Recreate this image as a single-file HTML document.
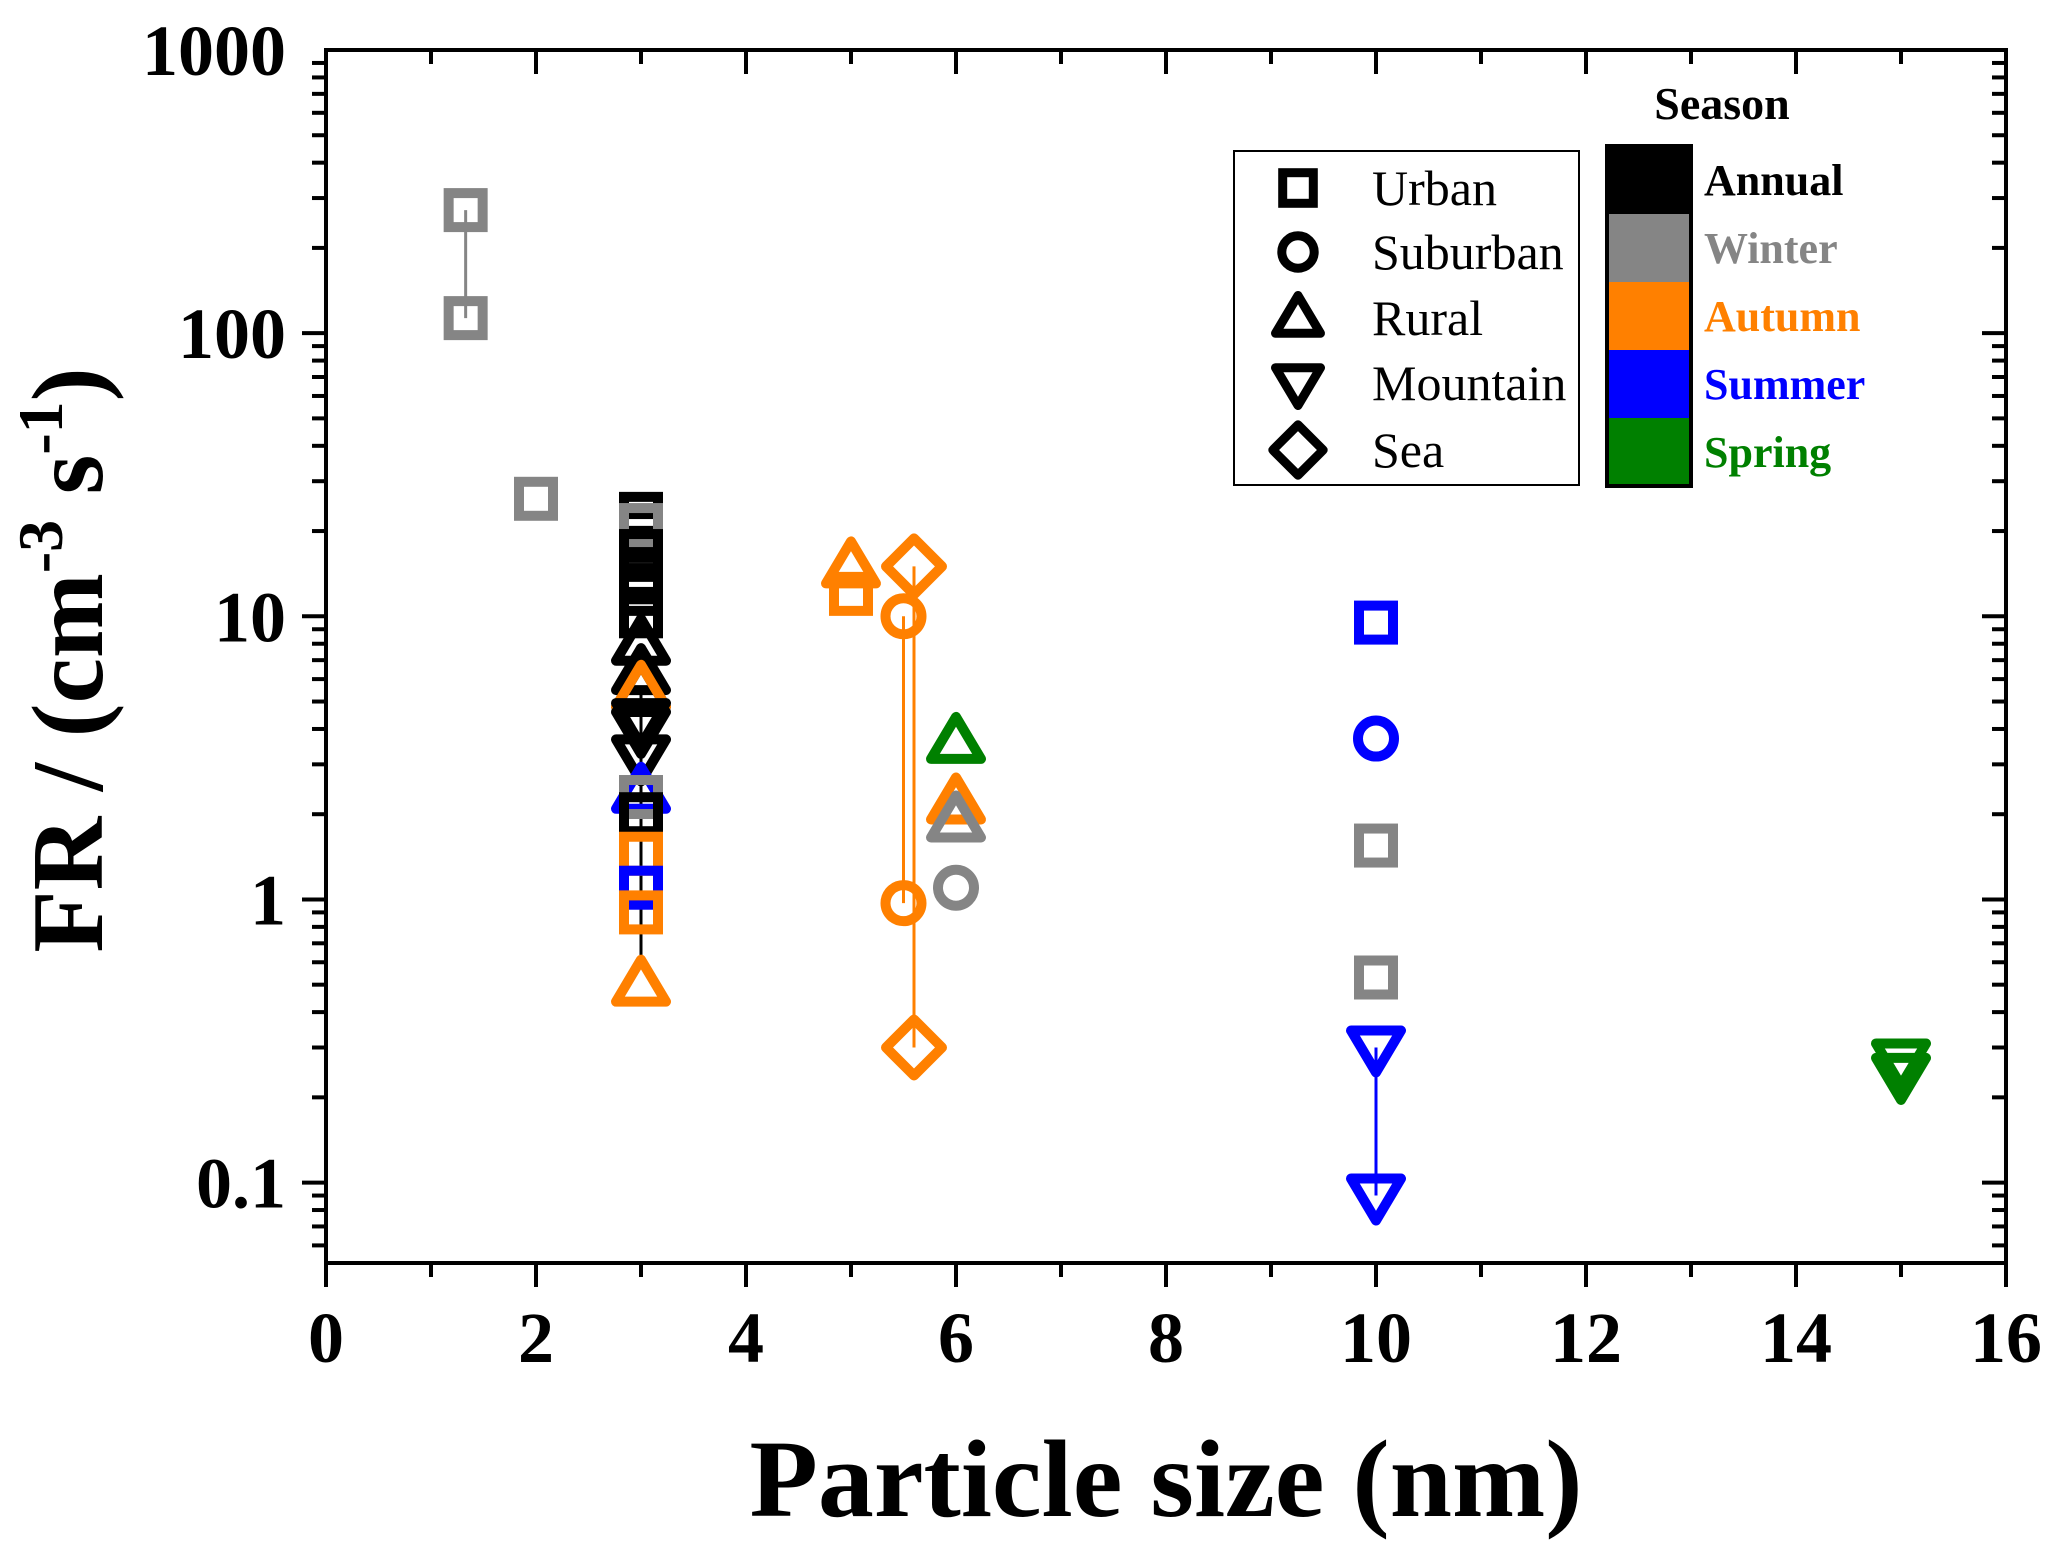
<!DOCTYPE html>
<html><head><meta charset="utf-8"><style>
html,body{margin:0;padding:0;background:#fff}
svg{display:block}
text{font-family:"Liberation Serif",serif}
</style></head><body>
<svg id="chart" width="2067" height="1559" viewBox="0 0 2067 1559" xmlns="http://www.w3.org/2000/svg">
<g id="axes"></g>
<g id="lines"></g>
<g id="marks"></g>
<g id="legend">
<rect x="1234" y="151" width="345" height="334" fill="#fff" stroke="#000" stroke-width="2"/>
</g>
<g id="season">
<text x="1722" y="119" font-size="46" font-weight="bold" text-anchor="middle">Season</text>
</g>
<text x="1166" y="1516" font-size="110" font-weight="bold" text-anchor="middle" textLength="833" lengthAdjust="spacingAndGlyphs">Particle  size (nm)</text>
<text transform="translate(102,660) rotate(-90)" font-size="102" font-weight="bold" text-anchor="middle">FR / (cm<tspan font-size="64" dy="-40">-3</tspan><tspan dy="40"> s</tspan><tspan font-size="64" dy="-40">-1</tspan><tspan dy="40">)</tspan></text>
</svg>
<script>
const xTicks=[0,2,4,6,8,10,12,14,16];
const yTicks=[0.1,1,10,100,1000];
const yTickLabels=["0.1","1","10","100","1000"];
const seasons=["Annual","Winter","Autumn","Summer","Spring"];
const seasonColors=["#000000","#858585","#ff8000","#0000ff","#008000"];
const sites=["Urban","Suburban","Rural","Mountain","Sea"];
const shapes=["square","circle","up","down","diamond"];
// points: x size, FR value, site index, season index
const ptX=[1.33,1.33,2,3,3,3,3,3,3,3,3,3,3,3,3,3,3,3,3,3,3,3,3,3,3,5,5,5.5,5.5,5.6,5.6,6,6,6,6,10,10,10,10,10,10,15,15];
const ptY=[272,113,26,23,20,21,16,14,12,10,8,6.3,5.5,5.5,4,3.2,2.4,2.3,2,1.45,1.1,0.9,0.5,4.3,17,15,12,10,0.97,15,0.3,3.6,2.2,1.9,1.1,9.5,3.7,1.55,0.53,0.3,0.09,0.27,0.24];
const ptSite=[0,0,0,0,0,0,0,0,0,0,2,2,2,2,3,3,2,0,0,0,0,0,2,3,0,2,0,1,1,4,4,2,2,2,1,0,1,0,0,3,3,3,3];
const ptSeason=[1,1,1,0,0,1,1,0,0,0,0,0,0,2,0,0,3,1,0,2,3,2,2,0,0,2,2,2,2,2,2,4,2,1,1,3,3,1,1,3,3,4,4];
// connector segments: x, y1, y2, season
const segX=[1.33,3,5.5,5.6,10];
const segY1=[272,0.6,10,15,0.3];
const segY2=[113,5.5,0.97,0.3,0.09];
const segSeason=[1,0,2,2,3];

const X0=326,X1=2006,XMIN=0,XMAX=16,YT=50,YB=1263,YMAX=1000,YMIN=0.052;
const xs=v=>X0+(v-XMIN)/(XMAX-XMIN)*(X1-X0);
const ys=v=>YT+(Math.log10(YMAX)-Math.log10(v))/(Math.log10(YMAX)-Math.log10(YMIN))*(YB-YT);
const NS="http://www.w3.org/2000/svg";
function mk(tag,attrs,parent){const e=document.createElementNS(NS,tag);for(const k in attrs)e.setAttribute(k,attrs[k]);parent.appendChild(e);return e;}
const axes=document.getElementById('axes');
let fr=mk('rect',{x:X0,y:YT,width:X1-X0,height:YB-YT,fill:'none',stroke:'#000','stroke-width':4},axes);


for(let v=0;v<=16;v++){const major=v%2===0;const x=xs(v);
 let t=mk('line',{x1:x,x2:x,y1:YB,y2:YB+(major?24:14),stroke:'#000','stroke-width':4},axes);
 
 
 let t2=mk('line',{x1:x,x2:x,y1:YT,y2:YT+(major?24:14),stroke:'#000','stroke-width':4},axes);
 
 }
xTicks.forEach(v=>{let l=mk('text',{x:xs(v),y:1362,'font-size':72,'font-weight':'bold','text-anchor':'middle'},axes);l.textContent=v;
 
 });
for(let d=-2;d<=2;d++){for(let m=1;m<=9;m++){const v=m*Math.pow(10,d);if(v<YMIN||v>YMAX)continue;const y=ys(v);const major=m===1;
 let t=mk('line',{x1:X0-(major?24:14),x2:X0,y1:y,y2:y,stroke:'#000','stroke-width':4},axes);
 
 
 let t2=mk('line',{x1:X1-(major?24:14),x2:X1,y1:y,y2:y,stroke:'#000','stroke-width':4},axes);
 
 }}
yTicks.forEach((v,i)=>{let l=mk('text',{x:286,y:ys(v)+25,'font-size':72,'font-weight':'bold','text-anchor':'end'},axes);l.textContent=yTickLabels[i];
 
 });
const lg=document.getElementById('lines');
segX.forEach((x,i)=>{let l=mk('line',{x1:xs(x),x2:xs(x),y1:ys(segY1[i]),y2:ys(segY2[i]),stroke:seasonColors[segSeason[i]],'stroke-width':3},lg);
 
 });
function marker(shape,cx,cy,color,parent,s,swv){s=s||1;let e;const sw=swv||10;
 if(shape==='square')e=mk('rect',{x:cx-17*s,y:cy-17*s,width:34*s,height:34*s,fill:'none',stroke:color,'stroke-width':sw},parent);
 else if(shape==='circle')e=mk('circle',{cx:cx,cy:cy,r:18*s,fill:'none',stroke:color,'stroke-width':sw},parent);
 else if(shape==='up')e=mk('polygon',{points:`${cx},${cy-25*s} ${cx+25*s},${cy+17*s} ${cx-25*s},${cy+17*s}`,fill:'none',stroke:color,'stroke-width':sw,'stroke-linejoin':'round'},parent);
 else if(shape==='down')e=mk('polygon',{points:`${cx},${cy+25*s} ${cx+25*s},${cy-17*s} ${cx-25*s},${cy-17*s}`,fill:'none',stroke:color,'stroke-width':sw,'stroke-linejoin':'round'},parent);
 else e=mk('polygon',{points:`${cx},${cy-28*s} ${cx+28*s},${cy} ${cx},${cy+28*s} ${cx-28*s},${cy}`,fill:'none',stroke:color,'stroke-width':sw,'stroke-linejoin':'round'},parent);
 return e;}
const mg=document.getElementById('marks');
ptX.forEach((x,i)=>{const e=marker(shapes[ptSite[i]],xs(x),ys(ptY[i]),seasonColors[ptSeason[i]],mg);
 
 });
const leg=document.getElementById('legend');
const legY=[188,252,318,383,450];
sites.forEach((s,i)=>{const m=marker(shapes[i],1298,legY[i],'#000',leg,0.9,9);
 
 
 let t=mk('text',{x:1372,y:legY[i]+17,'font-size':50},leg);t.textContent=s;
 
 });
const sg=document.getElementById('season');
const sTop=146,sH=68;
seasons.forEach((s,i)=>{let r=mk('rect',{x:1607,y:sTop+i*sH,width:84,height:sH,fill:seasonColors[i]},sg);
 
 
 let t=mk('text',{x:1704,y:sTop+i*sH+49,'font-size':44,'font-weight':'bold',fill:seasonColors[i]},sg);t.textContent=s;
 
 });
let sb=mk('rect',{x:1607,y:sTop,width:84,height:sH*5,fill:'none',stroke:'#000','stroke-width':4},sg);


</script>
</body></html>
